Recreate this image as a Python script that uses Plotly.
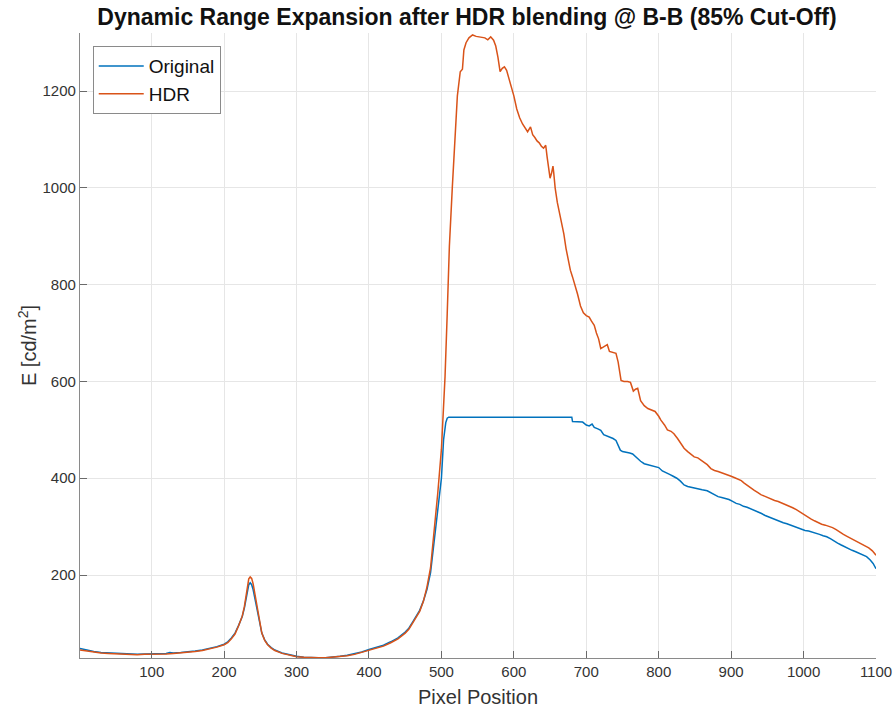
import plotly.graph_objects as go

# ---------------- data ----------------
hdr_x = [1, 10, 20, 30, 40, 50, 60, 70, 80, 90, 100, 110, 120, 130, 140, 150, 160, 170, 180, 190,
         200, 205, 210, 215, 220, 225, 228, 231, 234, 236, 238, 240, 243, 246, 249, 252, 256, 260,
         265, 270, 280, 290, 300, 310, 320, 330, 340, 350, 360, 370, 380, 390, 400, 410, 420, 430,
         440, 450, 455, 460, 465, 470, 475, 480, 485, 490, 495, 500, 505, 508, 511, 515, 519, 522,
         526, 529, 531, 534, 538, 543, 548, 554, 560, 564, 568, 572, 575, 578, 581, 584, 587, 590,
         593, 596, 600, 604, 608, 612, 616, 619, 623, 626, 629, 632, 635, 638, 641, 644, 646, 648,
         650, 652, 654, 655, 657, 660, 663, 666, 669, 672, 675, 678, 681, 685, 688, 692, 696, 700,
         704, 707, 711, 714, 717, 720, 724, 729, 732, 736, 741, 744, 748, 752, 757, 761, 765, 768,
         771, 775, 780, 785, 790, 795, 800, 803, 808, 812, 817, 821, 826, 830, 835, 840, 845, 849,
         854, 858, 863, 867, 872, 877, 882, 886, 891, 895, 900, 905, 910, 914, 918, 923, 928, 932,
         937, 941, 946, 950, 955, 960, 965, 970, 975, 980, 985, 990, 995, 1000, 1005, 1010, 1015,
         1020, 1025, 1030, 1035, 1040, 1045, 1050, 1055, 1060, 1065, 1070, 1075, 1080, 1085, 1090,
         1095, 1100]
hdr_y = [45, 43, 41, 39, 38, 37, 36, 36, 35, 36, 36, 37, 37, 38, 39, 40, 42, 44, 47, 51,
         56, 60, 68, 78, 95, 115, 135, 165, 192, 196, 193, 182, 155, 125, 100, 80, 65, 56,
         49, 44, 38, 34, 31, 30, 29, 29, 29, 30, 31, 33, 36, 40, 44, 48, 53, 60,
         68, 80, 88, 100, 112, 125, 145, 175, 215, 290, 370, 460, 610, 740, 880, 1000, 1120, 1190,
         1240, 1245, 1285, 1300, 1310, 1316, 1313, 1312, 1310, 1306, 1312, 1305, 1293, 1270, 1240, 1247, 1250, 1243,
         1228, 1212, 1190, 1163, 1145, 1132, 1122, 1116, 1126, 1110, 1104, 1097, 1093, 1086, 1082, 1088, 1063, 1040,
         1020, 1030, 1045, 1032, 1000, 970, 948, 930, 905, 875, 850, 830, 816, 798, 780, 756, 742, 736,
         733, 725, 716, 700, 688, 668, 672, 676, 662, 660, 658, 640, 602, 600, 600, 598, 580, 584,
         586, 560, 550, 544, 541, 538, 528, 520, 510, 500, 497, 492, 482, 472, 462, 455, 448, 444,
         442, 438, 432, 428, 420, 416, 414, 412, 410, 407, 404, 401, 398, 395, 390, 384, 378, 375,
         370, 366, 363, 360, 357, 354, 352, 349, 345, 342, 339, 335, 330, 325, 320, 316, 312,
         308, 305, 303, 301, 298, 294, 288, 284, 280, 276, 272, 268, 264, 260, 256,
         250, 241]

orig_x = [1, 10, 20, 30, 40, 50, 60, 70, 80, 90, 100, 110, 120, 125, 130, 140, 150, 160, 170, 180,
          190, 200, 205, 210, 215, 220, 225, 228, 231, 234, 236, 238, 240, 243, 246, 249, 252, 256,
          260, 265, 270, 280, 290, 300, 310, 320, 330, 340, 350, 360, 370, 380, 390, 400, 410, 420,
          430, 440, 450, 455, 460, 465, 470, 475, 480, 485, 490, 495, 500, 503, 506, 508, 510, 520,
          680, 681, 690, 695, 700, 704, 708, 711, 716, 720, 724, 728, 733, 737, 741, 744, 747, 750,
          755, 760, 764, 768, 771, 775, 780, 785, 790, 795, 800, 805, 810, 815, 820, 825, 830, 835,
          840, 845, 850, 855, 860, 867, 872, 877, 882, 887, 892, 897, 902, 907, 912, 917, 922, 927,
          932, 937, 942, 947, 952, 957, 962, 967, 972, 977, 982, 987, 992, 997, 1002, 1007, 1012,
          1017, 1022, 1027, 1032, 1037, 1042, 1047, 1052, 1057, 1062, 1067, 1072, 1077, 1082, 1087,
          1092, 1096, 1100]
orig_y = [48, 45, 42, 40, 39, 38, 37, 37, 36, 37, 37, 37, 38, 40, 39, 40, 41, 43, 45, 48,
          52, 57, 62, 70, 80, 96, 114, 132, 158, 180, 184, 180, 170, 148, 122, 98, 80, 66,
          57, 50, 45, 39, 35, 32, 30, 29, 29, 29, 30, 32, 34, 37, 41, 46, 50, 55,
          62, 70, 82, 90, 102, 114, 127, 146, 170, 205, 270, 345, 400, 480, 515, 524, 526, 526,
          526, 517, 517, 516, 510, 508, 512, 505, 502, 499, 490, 488, 485, 482, 478, 468, 458, 455,
          454, 452, 450, 444, 441, 435, 430, 428, 426, 424, 422, 415, 412, 408, 404, 400, 394, 386,
          383, 381, 379, 377, 376, 374, 370, 366, 362, 360, 358, 356, 352, 348, 346, 342, 340, 337,
          334, 330, 327, 323, 320, 316, 313, 311, 308, 306, 303, 300, 297, 294, 292, 291, 289,
          287, 284, 281, 279, 275, 270, 266, 262, 258, 254, 251, 248, 245, 242, 238,
          231, 224, 213]

series_names = ["Original", "HDR"]
x_ticks = [100, 200, 300, 400, 500, 600, 700, 800, 900, 1000, 1100]
y_ticks = [200, 400, 600, 800, 1000, 1200]
title_text = "Dynamic Range Expansion after HDR blending @ B-B (85% Cut-Off)"
x_label = "Pixel Position"
y_label = "E [cd/m<sup>2</sup>]"

# ---------------- figure ----------------
FONT = "Liberation Sans, Arial, Helvetica, sans-serif"
fig = go.Figure()
fig.add_trace(go.Scatter(x=orig_x, y=orig_y, mode="lines", name=series_names[0],
                         line=dict(color="#0072BD", width=1.5)))
fig.add_trace(go.Scatter(x=hdr_x, y=hdr_y, mode="lines", name=series_names[1],
                         line=dict(color="#D95319", width=1.5)))

axis_common = dict(
    showgrid=True, gridcolor="#e6e6e6", gridwidth=1,
    showline=True, linecolor="#8a8a8a", linewidth=1.2,
    ticks="inside", ticklen=7, tickcolor="#6a6a6a", tickwidth=1,
    zeroline=False, mirror=False, automargin=False,
    tickfont=dict(family=FONT, size=15, color="#333333"),
)

fig.update_layout(
    width=893, height=708,
    margin=dict(l=80, r=17, t=33, b=50),
    paper_bgcolor="white", plot_bgcolor="white",
    font=dict(family=FONT, color="#222222"),
    title=dict(text="<b>" + title_text + "</b>", x=0.523, xanchor="center",
               y=0.976, yanchor="middle", font=dict(family=FONT, size=23, color="#111111")),
    xaxis=dict(range=[1, 1100], tickvals=x_ticks,
               title=dict(text=x_label, font=dict(family=FONT, size=20, color="#333333"), standoff=10),
               **axis_common),
    yaxis=dict(range=[28.5, 1320], tickvals=y_ticks,
               title=dict(text=y_label, font=dict(family=FONT, size=20, color="#333333"), standoff=0),
               **axis_common),
    legend=dict(x=0.016, y=0.979, xanchor="left", yanchor="top",
                bgcolor="white", bordercolor="#8a8a8a", borderwidth=1,
                font=dict(family=FONT, size=19, color="#111111"),
                itemwidth=45, tracegroupgap=0),
    showlegend=True,
)

fig.write_html("out.html")
